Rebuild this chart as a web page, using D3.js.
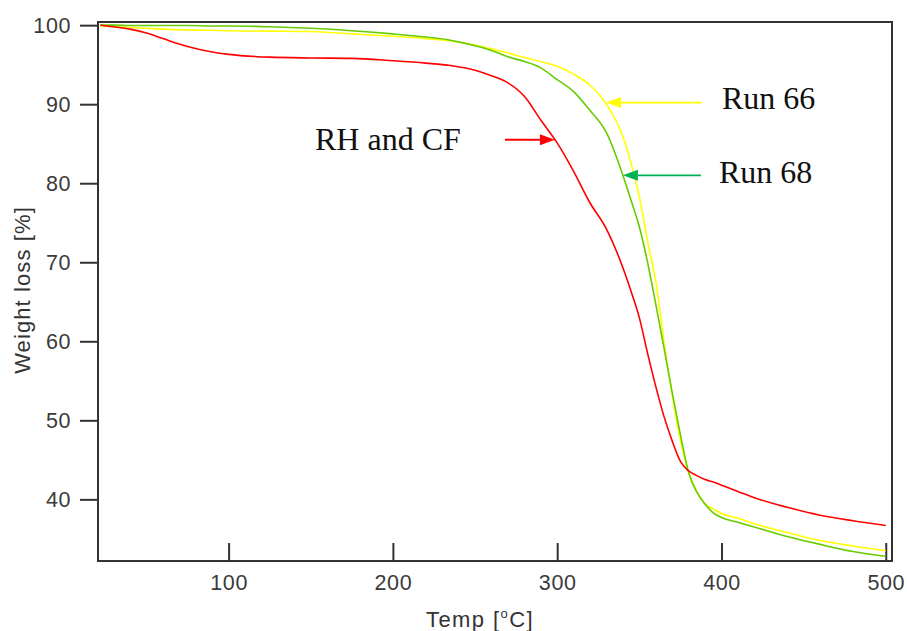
<!DOCTYPE html>
<html>
<head>
<meta charset="utf-8">
<script src="https://cdn.jsdelivr.net/npm/d3@7"></script>
<style>
  body { margin: 0; background: #fff; }
  svg { display: block; }
</style>
</head>
<body>
<div class="tga"></div>
<script>

var temps = [22, 30, 40, 50, 60, 75, 90, 100, 125, 150, 175, 200, 220, 235, 250, 260, 270, 280, 290, 300,
  310, 320, 330, 340, 345, 350, 355, 360, 365, 370, 375, 380, 385, 390, 395, 400, 410, 420, 440, 460, 480, 500];

var rhcf = [100, 99.8, 99.5, 99.0, 98.3, 97.3, 96.6, 96.3, 95.95, 95.85, 95.8, 95.5, 95.2, 94.9, 94.3, 93.6, 92.7, 91.0, 88.0, 85.1,
  81.5, 77.5, 74.2, 69.3, 66.3, 63.0, 58.5, 54.3, 50.5, 47.4, 44.8, 43.6, 43.0, 42.5, 42.2, 41.8, 41.0, 40.2, 39.0, 38.0, 37.3, 36.7];

var run68 = [100, 100, 99.95, 99.95, 99.95, 99.95, 99.9, 99.9, 99.8, 99.6, 99.3, 98.9, 98.5, 98.1, 97.4, 96.8, 96.0, 95.4, 94.6, 93.1,
  91.6, 89.2, 86.4, 81.0, 77.8, 74.5, 70.0, 64.7, 59.2, 53.5, 48.2, 43.4, 40.9, 39.4, 38.3, 37.7, 37.1, 36.5, 35.3, 34.3, 33.4, 32.8];

var run66 = [99.9, 99.8, 99.7, 99.6, 99.5, 99.4, 99.35, 99.3, 99.25, 99.2, 98.9, 98.6, 98.3, 98.0, 97.5, 97.0, 96.5, 95.9, 95.4, 94.8,
  93.8, 92.4, 90.0, 85.9, 82.5, 78.3, 72.7, 67.6, 60.0, 53.2, 47.5, 43.4, 41.0, 39.4, 38.8, 38.2, 37.6, 36.9, 35.8, 34.8, 34.1, 33.5];

var xTicks = [100, 200, 300, 400, 500];
var yTicks = [40, 50, 60, 70, 80, 90, 100];

// label, arrow tip (temp, weight), arrow tail temp, label anchor (temp, weight)
var notes = [
  { label: "Run 66", color: "#ffff00", tipT: 329.7, tipW: 90.2, tailT: 388.1, textT: 400.3, textW: 89.4 },
  { label: "Run 68", color: "#00b050", tipT: 340.0, tipW: 81.0, tailT: 387.5, textT: 398.5, textW: 80.0 },
  { label: "RH and CF", color: "#ff0000", tipT: 298.6, tipW: 85.5, tailT: 268.2, textT: 152.6, textW: 84.2 }
];

var svgWidth = 907;
var svgHeight = 631;

var margin = { top: 22, right: 15, bottom: 70, left: 98 };
var width = svgWidth - margin.left - margin.right;
var height = svgHeight - margin.top - margin.bottom;

var svg = d3.select(".tga")
  .append("svg")
  .attr("width", svgWidth)
  .attr("height", svgHeight);

var chartGroup = svg.append("g")
  .attr("transform", `translate(${margin.left}, ${margin.top})`);

var x = d3.scaleLinear().domain([20.5, 503.8]).range([0, width]);
var y = d3.scaleLinear().domain([32.2, 100.4]).range([height, 0]);

// frame
chartGroup.append("rect")
  .attr("width", width)
  .attr("height", height)
  .attr("fill", "none")
  .attr("stroke", "#333")
  .attr("stroke-width", 2);

var yAxis = chartGroup.append("g")
  .call(d3.axisLeft(y).tickValues(yTicks).tickSize(18).tickPadding(9).tickSizeOuter(0));

var xAxis = chartGroup.append("g")
  .attr("transform", `translate(0, ${height})`)
  .call(d3.axisBottom(x).tickValues(xTicks).tickSize(-18).tickPadding(14).tickSizeOuter(0));

[yAxis, xAxis].forEach(function (ax) {
  ax.select(".domain").remove();
  ax.selectAll(".tick line").attr("stroke", "#333").attr("stroke-width", 2);
  ax.selectAll(".tick text")
    .attr("fill", "#3a3a3a")
    .style("font-family", "'Liberation Sans', Arial, sans-serif")
    .style("font-size", "21.5px")
    .style("letter-spacing", "0.6px");
});

// curves
var series = [
  { name: "Run 66", values: run66, color: "#ffff00" },
  { name: "Run 68", values: run68, color: "#66cc00" },
  { name: "RH and CF", values: rhcf, color: "#ff0000" }
];

var line = d3.line()
  .x(function (d) { return x(d[0]); })
  .y(function (d) { return y(d[1]); })
  .curve(d3.curveMonotoneX);

chartGroup.selectAll(".curve")
  .data(series)
  .join("path")
  .attr("class", "curve")
  .attr("fill", "none")
  .attr("stroke", function (d) { return d.color; })
  .attr("stroke-width", 1.6)
  .attr("d", function (d) {
    return line(temps.map(function (t, i) { return [t, d.values[i]]; }));
  });

// arrows and labels
notes.forEach(function (n) {
  var tipX = x(n.tipT);
  var tipY = y(n.tipW);
  var tailX = x(n.tailT);
  var dir = tailX > tipX ? 1 : -1;
  var headLen = 15;

  chartGroup.append("line")
    .attr("x1", tailX)
    .attr("y1", tipY)
    .attr("x2", tipX + dir * headLen)
    .attr("y2", tipY)
    .attr("stroke", n.color)
    .attr("stroke-width", 1.8);

  chartGroup.append("path")
    .attr("d", "M" + tipX + "," + tipY +
      "L" + (tipX + dir * headLen) + "," + (tipY - 5.5) +
      "L" + (tipX + dir * headLen) + "," + (tipY + 5.5) + "Z")
    .attr("fill", n.color);

  chartGroup.append("text")
    .attr("x", x(n.textT))
    .attr("y", y(n.textW))
    .style("font-family", "'Liberation Serif', 'Times New Roman', serif")
    .style("font-size", "32px")
    .attr("fill", "#111")
    .text(n.label);
});

// axis titles
svg.append("text")
  .attr("transform", "translate(30, 290) rotate(-90)")
  .style("text-anchor", "middle")
  .style("font-family", "'Liberation Sans', Arial, sans-serif")
  .style("font-size", "22px")
  .style("letter-spacing", "1.1px")
  .attr("fill", "#333")
  .text("Weight loss [%]");

var xTitle = svg.append("text")
  .attr("x", 480)
  .attr("y", 627)
  .style("text-anchor", "middle")
  .style("font-family", "'Liberation Sans', Arial, sans-serif")
  .style("font-size", "22px")
  .style("letter-spacing", "1.4px")
  .attr("fill", "#333");
xTitle.append("tspan").text("Temp [");
xTitle.append("tspan").attr("dy", -9).style("font-size", "13px").text("o");
xTitle.append("tspan").attr("dy", 9).text("C]");

</script>
</body>
</html>
